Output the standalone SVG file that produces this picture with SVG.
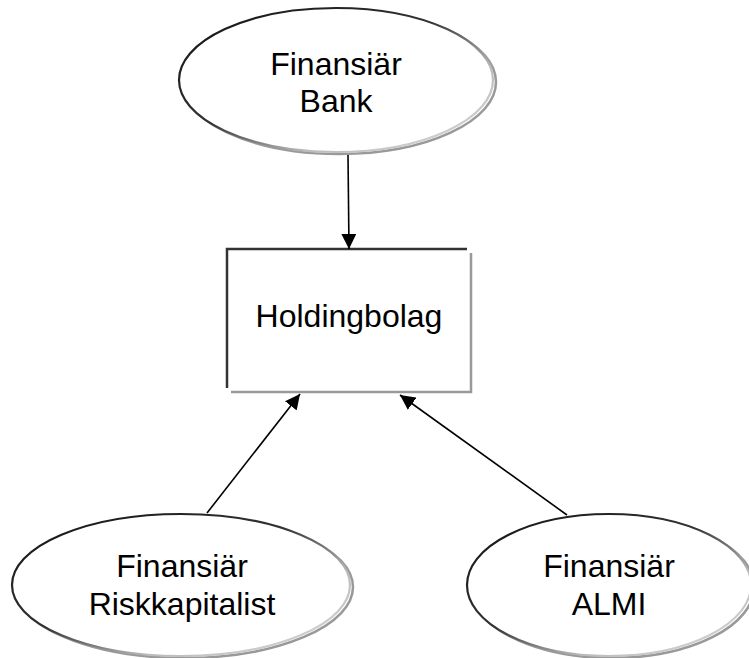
<svg xmlns="http://www.w3.org/2000/svg" width="749" height="658" viewBox="0 0 749 658">
<style>
.lbl{font-family:"Liberation Sans",Arial,sans-serif;font-size:32px;fill:#000;text-anchor:middle}
.shadow{fill:none;stroke:#999;stroke-width:2.5}
.body{fill:#fff;stroke:url(#edge);stroke-width:2.2}
.conn{stroke:#000;stroke-width:1.6;fill:none;marker-end:url(#arr)}
</style>
<defs>
<linearGradient id="edge" x1="0" y1="0" x2="1" y2="1">
<stop offset="0" stop-color="#111"/>
<stop offset="0.45" stop-color="#333"/>
<stop offset="0.7" stop-color="#bbb"/>
<stop offset="1" stop-color="#ddd"/>
</linearGradient>
<marker id="arr" viewBox="0 0 10 10" refX="10" refY="5" markerWidth="15" markerHeight="15" markerUnits="userSpaceOnUse" orient="auto">
<path d="M0,0 L10,5 L0,10 z" fill="#000"/>
</marker>
</defs>
<rect width="749" height="658" fill="#fff"/>
<g id="bank">
<ellipse class="shadow" cx="339" cy="82" rx="157" ry="72"/>
<ellipse class="body" cx="336" cy="80" rx="157" ry="72"/>
<text class="lbl" x="336" y="75">Finansiär</text>
<text class="lbl" x="336" y="112">Bank</text>
</g>
<g id="holding">
<rect x="227" y="249" width="244" height="143" fill="#fff"/>
<polyline points="231,392 471,392 471,253" fill="none" stroke="#999" stroke-width="2.5"/>
<polyline points="227,388 227,249 467,249" fill="none" stroke="#333" stroke-width="2.5"/>
<text class="lbl" x="349" y="327">Holdingbolag</text>
</g>
<g id="risk">
<ellipse class="shadow" cx="184" cy="587" rx="169" ry="71"/>
<ellipse class="body" cx="181" cy="585" rx="169" ry="71"/>
<text class="lbl" x="182" y="577">Finansiär</text>
<text class="lbl" x="182" y="615">Riskkapitalist</text>
</g>
<g id="almi">
<ellipse class="shadow" cx="612" cy="587" rx="142" ry="71"/>
<ellipse class="body" cx="609" cy="585" rx="142" ry="71"/>
<text class="lbl" x="609" y="577">Finansiär</text>
<text class="lbl" x="609" y="615">ALMI</text>
</g>
<g id="connectors">
<line class="conn" x1="348" y1="155" x2="349" y2="249"/>
<line class="conn" x1="207" y1="513" x2="300" y2="394"/>
<line class="conn" x1="567" y1="515" x2="400" y2="395"/>
</g>
</svg>
